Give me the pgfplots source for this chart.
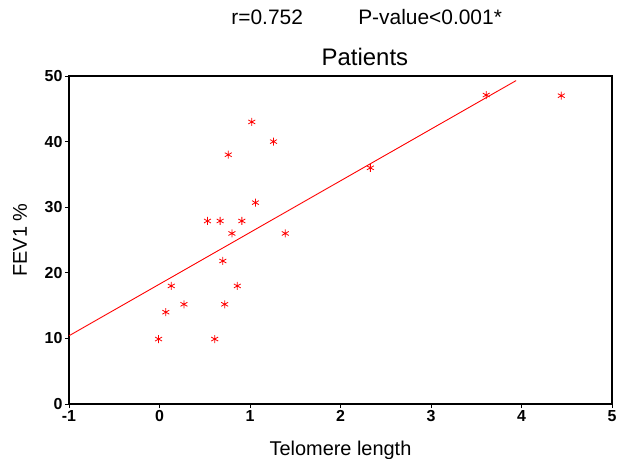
\documentclass[border=0pt]{standalone}
\usepackage{fontspec}
\setmainfont{Liberation Sans}
\usepackage{pgfplots}
\pgfplotsset{compat=1.18}
\begin{document}
\begin{tikzpicture}
\path[use as bounding box] (-69bp,-55bp) rectangle (551bp,404bp);
\begin{axis}[
  scale only axis,
  width=543bp, height=328bp,
  xmin=-1, xmax=5, ymin=0, ymax=50,
  xtick={-1,0,1,2,3,4,5},
  ytick={0,10,20,30,40,50},
  xtick pos=left, ytick pos=left,
  tick align=outside,
  major tick length=4bp,
  axis line style={black, line width=1.1pt},
  tick style={black, line width=0.9pt},
  /pgf/number format/assume math mode=true,
  ticklabel style={font=\bfseries\fontsize{16}{16}\selectfont},
  xticklabel style={yshift=1bp},
  yticklabel style={xshift=1bp},
  xlabel={Telomere length},
  ylabel={FEV1 \%},
  label style={font=\fontsize{20}{20}\selectfont},
  xlabel style={at={(axis description cs:0.50,-0.140)}, anchor=center},
  ylabel style={at={(axis description cs:-0.090,0.5)}, anchor=center},
  clip=false,
]
\addplot[red, line width=0.9pt] coordinates {(-1,10.4) (3.94,49.3)};
\addplot[only marks, red, mark=asterisk, mark size=4bp, mark options={line width=0.8pt}] coordinates {
(1.02,43.0) (1.26,40.0) (0.76,38.0) (1.06,30.7) (0.53,27.9) (0.67,27.9)
(0.91,27.9) (0.80,26.0) (1.39,26.0) (0.70,21.8) (0.13,18.0) (0.86,18.0)
(0.27,15.2) (0.72,15.2) (0.07,14.0) (-0.01,9.9) (0.61,9.9) (2.33,36.0)
(3.61,47.1) (4.44,47.0)
};
\node[font=\fontsize{24}{24}\selectfont, anchor=center] at (axis description cs:0.545,1.058) {Patients};
\node[font=\fontsize{21}{21}\selectfont, anchor=center] at (axis description cs:0.365,1.180) {r=0.752};
\node[font=\fontsize{21}{21}\selectfont, anchor=center] at (axis description cs:0.665,1.180) {P-value<0.001*};
\end{axis}
\end{tikzpicture}
\end{document}
